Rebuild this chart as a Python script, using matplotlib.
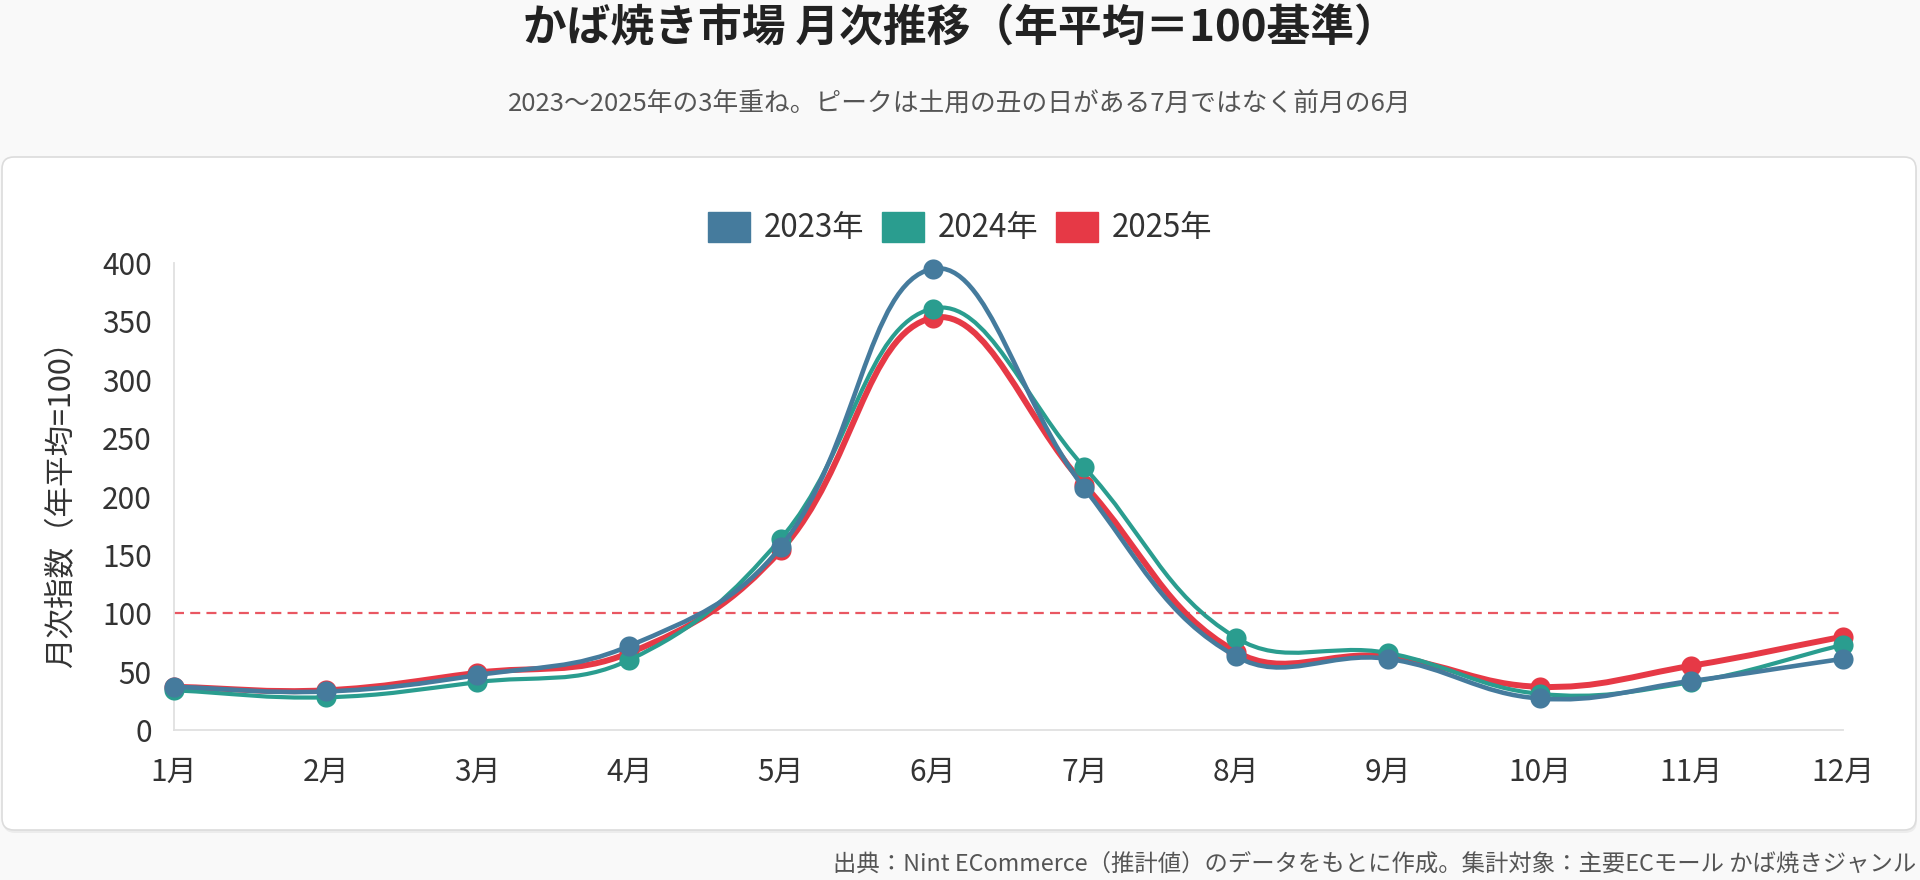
import matplotlib
matplotlib.use("Agg")
import matplotlib.pyplot as plt
import numpy as np
from matplotlib.patches import FancyBboxPatch, Patch
from matplotlib.path import Path
from matplotlib.patches import PathPatch

plt.rcParams["font.family"] = ["Noto Sans CJK JP", "DejaVu Sans"]

# data
months = ["1月", "2月", "3月", "4月", "5月", "6月", "7月", "8月", "9月", "10月", "11月", "12月"]
idx_2023 = [37, 33, 47, 72, 157, 395, 207, 63, 61, 27, 42, 61]
idx_2024 = [34, 28, 41, 60, 164, 361, 225, 79, 66, 31, 41, 73]
idx_2025 = [37, 34, 49, 66, 154, 353, 210, 67, 63, 37, 55, 80]
series_labels = ["2023年", "2024年", "2025年"]
colors = ["#457b9d", "#2a9d8f", "#e63946"]
baseline = 100

W, H = 1920, 880
fig = plt.figure(figsize=(W / 100, H / 100), dpi=100)
fig.patch.set_facecolor("#f9f9f9")

# background layer in pixel units for card and texts
bg = fig.add_axes([0, 0, 1, 1], zorder=0)
bg.set_xlim(0, W)
bg.set_ylim(H, 0)
bg.axis("off")
shadow = FancyBboxPatch((3, 160), 1914, 673, boxstyle="round,pad=0,rounding_size=12",
                        facecolor="#000000", alpha=0.05, edgecolor="none")
card = FancyBboxPatch((2, 157), 1914, 673, boxstyle="round,pad=0,rounding_size=12",
                      facecolor="white", edgecolor="#dcdcdc", linewidth=1.2)
bg.add_patch(shadow)
bg.add_patch(card)

bg.text(W / 2, 29, "かば焼き市場 月次推移（年平均＝100基準）", ha="center", va="center",
        fontsize=31.5, fontweight="bold", color="#222222")
bg.text(W / 2, 104, "2023～2025年の3年重ね。ピークは土用の丑の日がある7月ではなく前月の6月",
        ha="center", va="center", fontsize=18.5, color="#555555")
bg.text(W - 4, 865, "出典：Nint ECommerce（推計値）のデータをもとに作成。集計対象：主要ECモール かば焼きジャンル",
        ha="right", va="center", fontsize=16.8, color="#555555")

# main chart
ax = fig.add_axes([174 / W, 1 - 730 / H, (1843 - 174) / W, (730 - 263) / H], zorder=2)
ax.set_facecolor("none")
x = np.arange(1, len(months) + 1)
ax.set_xlim(1, 12)
ax.set_ylim(0, 400)


def spline_path(xs, ys, tension=0.4):
    # cubic bezier like Chart.js, control points computed in pixel space
    pts = ax.transData.transform(np.column_stack([xs, ys]))
    n = len(pts)
    cp_prev = np.zeros_like(pts)
    cp_next = np.zeros_like(pts)
    for i in range(n):
        cur = pts[i]
        prev = pts[i - 1] if i > 0 else cur
        nxt = pts[i + 1] if i < n - 1 else cur
        d01 = np.hypot(*(cur - prev))
        d12 = np.hypot(*(nxt - cur))
        tot = d01 + d12
        s01 = d01 / tot if tot else 0
        s12 = d12 / tot if tot else 0
        cp_prev[i] = cur - tension * s01 * (nxt - prev)
        cp_next[i] = cur + tension * s12 * (nxt - prev)
    verts = [pts[0]]
    codes = [Path.MOVETO]
    for i in range(n - 1):
        verts += [cp_next[i], cp_prev[i + 1], pts[i + 1]]
        codes += [Path.CURVE4] * 3
    inv = ax.transData.inverted()
    return Path(inv.transform(np.array(verts)), codes)


ax.axhline(baseline, color="#e63946", alpha=0.85, linewidth=1.6,
           linestyle=(0, (4.5, 2.8)), zorder=1)

all_series = [idx_2023, idx_2024, idx_2025]
widths = [3.3, 3.0, 4.3]
for k in [2, 1, 0]:
    z = 3 + (2 - k) * 2
    path = spline_path(x, all_series[k])
    ax.add_patch(PathPatch(path, facecolor="none", edgecolor=colors[k],
                           linewidth=widths[k], zorder=z, capstyle="round", joinstyle="round"))
    ax.plot(x, all_series[k], linestyle="none", marker="o", markersize=14.5,
            color=colors[k], markeredgewidth=0, zorder=z + 1, clip_on=False)

ax.set_xticks(x)
ax.set_xticklabels(months)
ax.set_yticks(np.arange(0, 401, 50))
ax.tick_params(axis="both", length=0, labelsize=21.5, labelcolor="#333333")
ax.tick_params(axis="x", pad=19)
ax.tick_params(axis="y", pad=16)
for side in ["top", "right"]:
    ax.spines[side].set_visible(False)
for side in ["left", "bottom"]:
    ax.spines[side].set_color("#e0e0e0")
    ax.spines[side].set_linewidth(1.3)
ax.set_ylabel("月次指数（年平均=100）", fontsize=22, color="#333333")
ax.yaxis.set_label_coords(-0.058, 0.5)

handles = [Patch(facecolor=c, edgecolor=c) for c in colors]
fig.legend(handles, series_labels, loc="center", bbox_to_anchor=(0.5, 1 - 228 / H),
           ncol=3, frameon=False, fontsize=22.5, handlelength=1.35, handleheight=1.1,
           handletextpad=0.45, columnspacing=0.55, labelcolor="#333333")

fig.savefig("out.png", dpi=100, facecolor=fig.get_facecolor())
